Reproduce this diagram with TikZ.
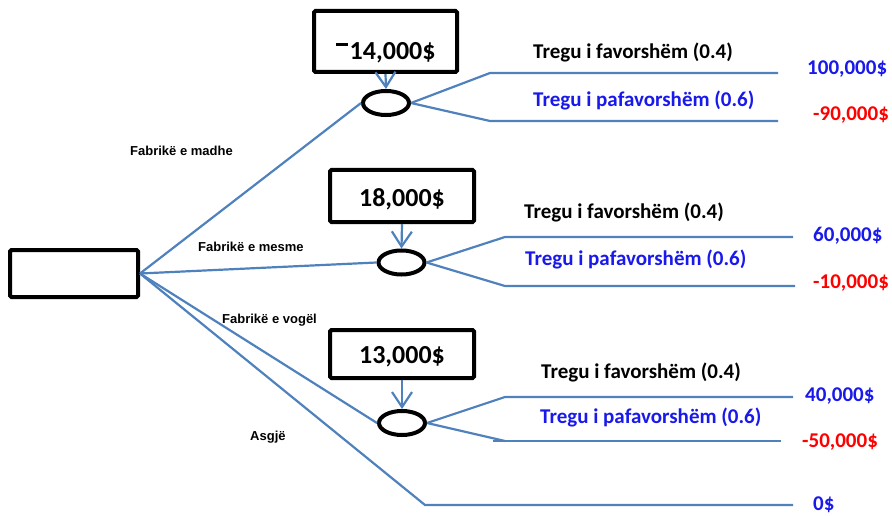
\documentclass[tikz,border=0pt]{standalone}
\usepackage{fontspec}
\setmainfont{Carlito}
\newfontfamily\labelfont{Liberation Sans}
\usetikzlibrary{shapes.geometric, arrows.meta}
\definecolor{lineblue}{HTML}{4F81BD}
\definecolor{gain}{RGB}{25,25,235}
\definecolor{loss}{RGB}{255,0,0}

\begin{document}
\begin{tikzpicture}[x=1pt, y=-1pt,
    decision/.style={draw, line width=4pt, rounded corners=1.5pt, inner sep=0pt},
    chance/.style={draw, ellipse, line width=4pt, inner sep=0pt, minimum width=46pt, minimum height=24pt},
    branch/.style={draw=lineblue, line width=2.2pt},
    money/.style={font=\bfseries\fontsize{26}{30}\selectfont, inner sep=0pt},
    market/.style={font=\bfseries\fontsize{21}{25}\selectfont, anchor=west, inner sep=0pt},
    choice/.style={font=\labelfont\bfseries\fontsize{13}{15}\selectfont, anchor=west, inner sep=0pt}]
  \useasboundingbox (0,0) rectangle (892,516);

  % decision and cost boxes
  \node[decision, minimum width=128pt, minimum height=47pt] (root) at (74,273.5) {};
  \node[decision, minimum width=143pt, minimum height=61pt] (b1) at (385.5,41.5) {};
  \node[decision, minimum width=144pt, minimum height=52pt] (b2) at (402,196) {};
  \node[decision, minimum width=144pt, minimum height=48pt] (b3) at (402,354) {};
  \node[money] (v1) at (386,53) {\rule[0.53em]{0.45em}{0.1em}\hspace{0.06em}14,000\$};
  \node[money] (v2) at (402,199) {18,000\$};
  \node[money] (v3) at (402,357) {13,000\$};

  % chance nodes
  \node[chance] (e1) at (386,103) {};
  \node[chance] (e2) at (401.5,262.5) {};
  \node[chance] (e3) at (402,423) {};

  \draw[branch, -{Straight Barb[length=15pt, width=20pt]}] (b1.south) -- (e1.north);
  \draw[branch, -{Straight Barb[length=15pt, width=20pt]}] (b2.south) -- (e2.north);
  \draw[branch, -{Straight Barb[length=15pt, width=20pt]}] (b3.south) -- (e3.north);

  % end points of the branches
  \coordinate (u1) at (490,73);  \coordinate (u1e) at (778,73);
  \coordinate (d1) at (490,121); \coordinate (d1e) at (778,121);
  \coordinate (u2) at (505,237); \coordinate (u2e) at (793,237);
  \coordinate (d2) at (505,286); \coordinate (d2e) at (795,286);
  \coordinate (u3) at (505,397); \coordinate (u3e) at (793,397);
  \coordinate (d3) at (505,441); \coordinate (d3s) at (493,441); \coordinate (d3e) at (781,441);
  \coordinate (n4) at (425,505); \coordinate (n4e) at (793,505);

  \draw[branch] (root.east) -- (e1.west);
  \draw[branch] (root.east) -- (e2.west);
  \draw[branch] (root.east) -- (e3.west);
  \draw[branch] (root.east) -- (n4) -- (n4e);

  \draw[branch] (e1.east) -- (u1) -- (u1e);
  \draw[branch] (e1.east) -- (d1) -- (d1e);
  \draw[branch] (e2.east) -- (u2) -- (u2e);
  \draw[branch] (e2.east) -- (d2) -- (d2e);
  \draw[branch] (e3.east) -- (u3) -- (u3e);
  \draw[branch] (e3.east) -- (d3);
  \draw[branch] (d3s) -- (d3e);

  % labels
  \node[choice] (c1) at (130,151) {Fabrikë e madhe};
  \node[choice] (c2) at (198,247) {Fabrikë e mesme};
  \node[choice] (c3) at (222,320) {Fabrikë e vogël};
  \node[choice] (c4) at (250,437) {Asgjë};

  \node[market] (f1) at (533,52) {Tregu i favorshëm (0.4)};
  \node[market, text=gain] (p1) at (533,100) {Tregu i pafavorshëm (0.6)};
  \node[market, text=gain] (w1) at (807,69) {100,000\$};
  \node[market, text=loss] (l1) at (813,115) {-90,000\$};

  \node[market] (f2) at (524,212) {Tregu i favorshëm (0.4)};
  \node[market, text=gain] (p2) at (525,259) {Tregu i pafavorshëm (0.6)};
  \node[market, text=gain] (w2) at (813,236) {60,000\$};
  \node[market, text=loss] (l2) at (813,283) {-10,000\$};

  \node[market] (f3) at (541,372) {Tregu i favorshëm (0.4)};
  \node[market, text=gain] (p3) at (540,417) {Tregu i pafavorshëm (0.6)};
  \node[market, text=gain] (w3) at (805,396) {40,000\$};
  \node[market, text=loss] (l3) at (802,442) {-50,000\$};
  \node[market, text=gain] (w4) at (813,505) {0\$};
\end{tikzpicture}
\end{document}
